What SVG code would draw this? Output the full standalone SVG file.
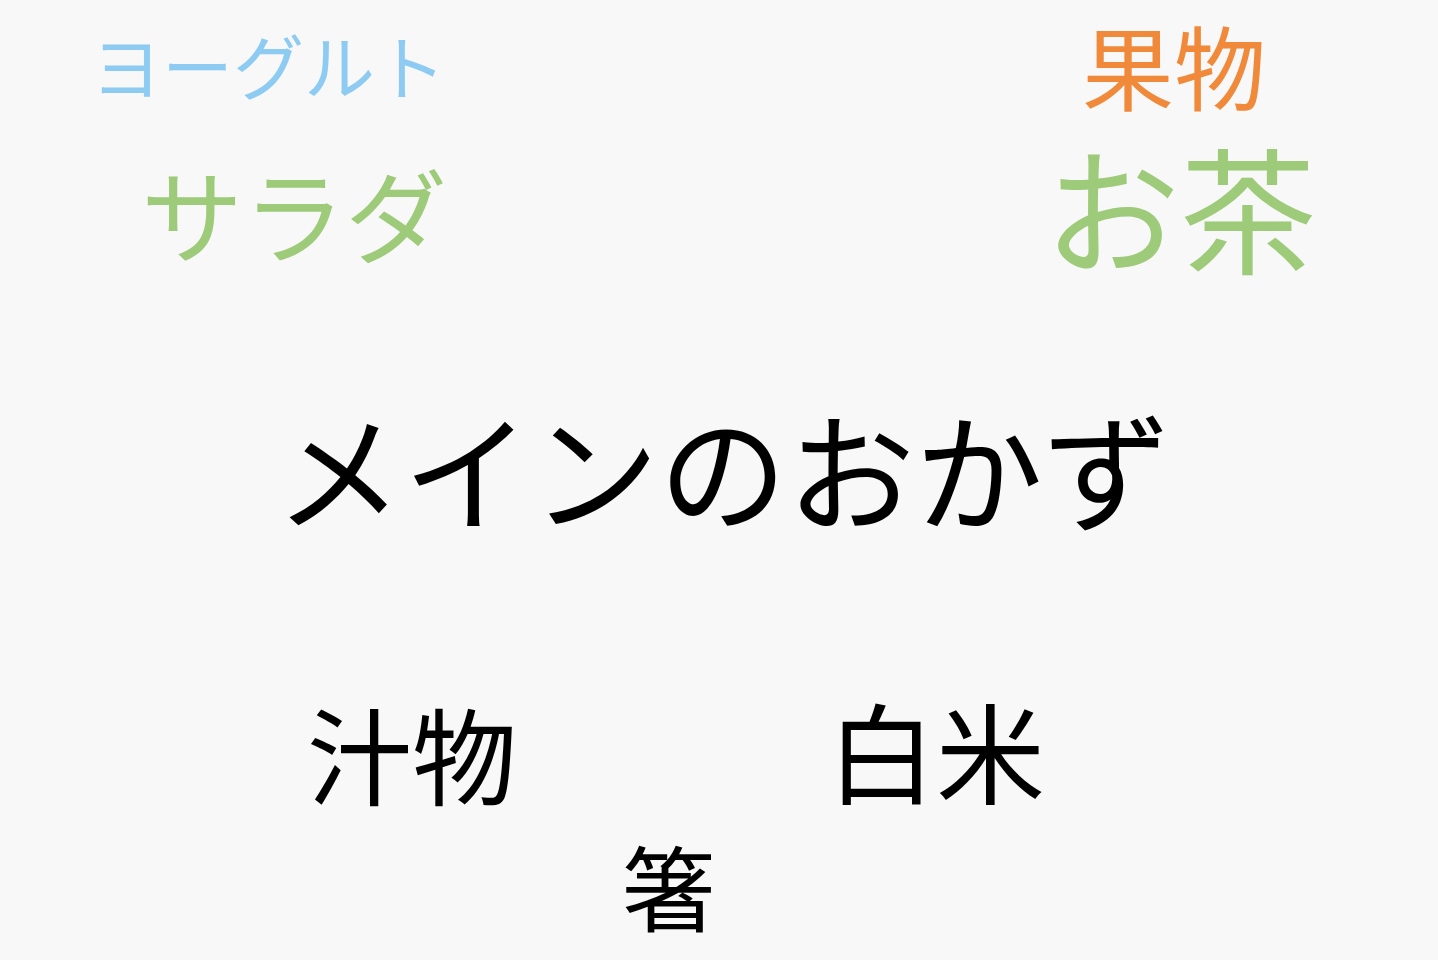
<svg xmlns="http://www.w3.org/2000/svg" width="1438" height="960" viewBox="0 0 1438 960">
<style>
text{font-family:"Noto Sans CJK JP","Noto Sans CJK SC",sans-serif;}
.blue{fill:#8ecbf2;}
.green{fill:#9dcb7a;}
.orange{fill:#f08a3a;}
.black{fill:#000000;}
</style>
<rect x="0" y="0" width="1438" height="960" fill="#f8f8f8"/>
<g id="yogurt"><text class="blue" x="91" y="94" font-size="71">ヨーグルト</text></g>
<g id="salad"><text class="green" x="141" y="256" font-size="102">サラダ</text></g>
<g id="fruit"><text class="orange" x="1082" y="104" font-size="92">果物</text></g>
<g id="tea"><text class="green" x="1044" y="264" font-size="136">お茶</text></g>
<g id="main"><text class="black" x="275" y="522" font-size="128">メインのおかず</text></g>
<g id="soup"><text class="black" x="307" y="797" font-size="105">汁物</text></g>
<g id="rice"><text class="black" x="827" y="796" font-size="109">白米</text></g>
<g id="chopsticks"><text class="black" x="622" y="925" font-size="93">箸</text></g>
</svg>
